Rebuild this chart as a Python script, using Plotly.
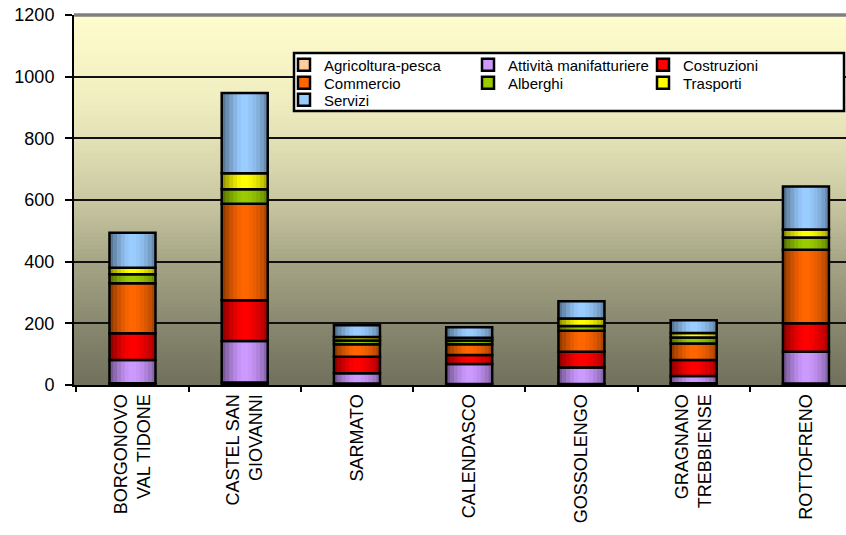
import plotly.graph_objects as go

categories = ["BORGONOVO<br>VAL TIDONE", "CASTEL SAN<br>GIOVANNI", "SARMATO", "CALENDASCO",
              "GOSSOLENGO", "GRAGNANO<br>TREBBIENSE", "ROTTOFRENO"]

agricoltura = [6, 8, 5, 3, 3, 6, 5]
manifatturiere = [75, 135, 33, 65, 54, 23, 103]
costruzioni = [87, 132, 54, 29, 51, 52, 92]
commercio = [162, 313, 40, 35, 68, 54, 239]
alberghi = [29, 47, 12, 12, 15, 19, 39]
trasporti = [21, 52, 12, 9, 25, 15, 26]
servizi = [114, 260, 38, 34, 56, 41, 140]

series_names = ["Agricoltura-pesca", "Attività manifatturiere", "Costruzioni",
                "Commercio", "Alberghi", "Trasporti", "Servizi"]
series_values = [agricoltura, manifatturiere, costruzioni, commercio, alberghi, trasporti, servizi]
series_colors = ["#FFCC99", "#CC99FF", "#FF0000", "#FF6600", "#99CC00", "#FFFF00", "#99CCFF"]

y_ticks = [0, 200, 400, 600, 800, 1000, 1200]

FONT = "Liberation Sans, Arial, sans-serif"

# figure / plot-area geometry in pixels
W, H = 846, 535
ML, MR, MT, MB = 74, 0, 15, 150
PW, PH = W - ML - MR, H - MT - MB

def px_x(sx):
    return (sx - ML) / PW

def px_y(sy):
    return (H - MB - sy) / PH

BAR_W = 0.41  # bar width in category units

# cumulative bases for stacking (overlay mode with explicit base)
bases = []
run = [0] * len(categories)
for vals in series_values:
    bases.append(list(run))
    run = [r + v for r, v in zip(run, vals)]

# legend slot for each series (3 columns, row-major like the original)
leg_cols = [0, 1, 2, 0, 1, 2, 0]
leg_rows = [0, 0, 0, 1, 1, 1, 2]
col_text_x = [320, 504, 679]
row_center_y = [65, 83, 100]

fig = go.Figure()
legend_layouts = {}
for i, (name, vals, col, base) in enumerate(zip(series_names, series_values, series_colors, bases)):
    key = "legend" if i == 0 else f"legend{i + 1}"
    fig.add_trace(go.Bar(
        x=categories, y=vals, base=base, name=name, legend=key, width=BAR_W,
        marker=dict(color=col, line=dict(color="black", width=2.5)),
    ))
    legend_layouts[key] = dict(
        x=px_x(col_text_x[leg_cols[i]] - 36), y=px_y(row_center_y[leg_rows[i]]),
        xanchor="left", yanchor="middle", orientation="v",
        bgcolor="rgba(0,0,0,0)", borderwidth=0,
        font=dict(family=FONT, size=15, color="black"),
    )

# cylindrical shading: semi-transparent dark strips across each bar
shade = [0.42, 0.30, 0.20, 0.11, 0.04, 0.0, 0.0, 0.03, 0.08, 0.14, 0.22, 0.32]
NS = len(shade)
all_x, all_y, all_base = [], [], []
for vals, base in zip(series_values, bases):
    all_x += categories
    all_y += vals
    all_base += base
for k, a in enumerate(shade):
    if a <= 0:
        continue
    fig.add_trace(go.Bar(
        x=all_x, y=all_y, base=all_base, width=BAR_W / NS,
        offset=-BAR_W / 2 + k * BAR_W / NS,
        marker=dict(color=f"rgba(0,0,0,{a})", line=dict(width=0)),
        showlegend=False, hoverinfo="skip",
    ))

# background gradient bands (paper coords, style only)
stops = [(15, (255, 252, 205)), (100, (240, 238, 192)), (170, (215, 213, 172)),
         (220, (190, 189, 153)), (262, (165, 164, 133)), (323, (137, 137, 112)),
         (385, (112, 112, 92))]

def col_at(yp):
    for (y0, c0), (y1, c1) in zip(stops[:-1], stops[1:]):
        if y0 <= yp <= y1:
            t = (yp - y0) / (y1 - y0)
            return tuple(int(round(a + (b - a) * t)) for a, b in zip(c0, c1))
    return stops[-1][1]

shapes = []
N = 90
for i in range(N):
    f0 = i / N
    f1 = (i + 1) / N
    ymid = (H - MB) - (f0 + f1) / 2 * PH
    r, g, b = col_at(ymid)
    shapes.append(dict(type="rect", xref="paper", yref="paper", x0=0, x1=1,
                       y0=f0, y1=min(1, f1 + 0.002), fillcolor=f"rgb({r},{g},{b})",
                       line=dict(width=0), layer="below"))
# gray top border
shapes.append(dict(type="line", xref="paper", yref="paper", x0=0, x1=1, y0=1, y1=1,
                   line=dict(color="#808080", width=3.5), layer="above"))
# legend box
shapes.append(dict(type="rect", xref="paper", yref="paper",
                   x0=px_x(294), x1=px_x(844), y0=px_y(111), y1=px_y(53),
                   fillcolor="white", line=dict(color="black", width=2.5), layer="above"))

fig.update_layout(
    width=W, height=H,
    margin=dict(l=ML, r=MR, t=MT, b=MB, autoexpand=False),
    barmode="overlay",
    paper_bgcolor="white",
    plot_bgcolor="rgba(0,0,0,0)",
    font=dict(family=FONT, size=16, color="black"),
    shapes=shapes,
    showlegend=True,
    xaxis=dict(
        type="category", range=[-0.521, 6.357],
        tickson="boundaries", ticks="outside", ticklen=5, tickcolor="black", tickwidth=2,
        showline=True, linecolor="black", linewidth=2,
        tickangle=-90, showgrid=False,
        tickfont=dict(family=FONT, size=18, color="black"),
    ),
    yaxis=dict(
        range=[0, 1200], tickvals=y_ticks,
        ticks="outside", ticklen=7, tickcolor="black", tickwidth=2,
        ticklabelstandoff=7, ticklabeloverflow="allow",
        showline=True, linecolor="black", linewidth=2,
        showgrid=True, gridcolor="#111111", gridwidth=2,
        zeroline=False,
        tickfont=dict(family=FONT, size=18, color="black"),
    ),
    **legend_layouts,
)

fig.write_html(
    "out.html",
    config={"displayModeBar": False},
    post_script="document.body.style.margin='0';document.body.style.overflow='hidden';",
)
